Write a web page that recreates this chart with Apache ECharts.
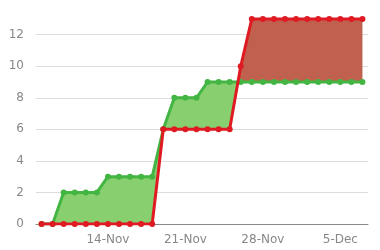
<!DOCTYPE html>
<html><head><meta charset="utf-8">
<script src="https://cdn.jsdelivr.net/npm/echarts@6/dist/echarts.min.js"></script>
<style>html,body{margin:0;padding:0;background:#fff}#c{width:380px;height:250px}</style>
</head><body><div id="c"></div>
<script>
var dates = ['8-Nov','9-Nov','10-Nov','11-Nov','12-Nov','13-Nov','14-Nov','15-Nov','16-Nov','17-Nov','18-Nov','19-Nov','20-Nov','21-Nov','22-Nov','23-Nov','24-Nov','25-Nov','26-Nov','27-Nov','28-Nov','29-Nov','30-Nov','1-Dec','2-Dec','3-Dec','4-Dec','5-Dec','6-Dec','7-Dec'];
var greenVals = [0,0,2,2,2,2,3,3,3,3,3,6,8,8,8,9,9,9,9,9,9,9,9,9,9,9,9,9,9,9];
var redVals   = [0,0,0,0,0,0,0,0,0,0,0,6,6,6,6,6,6,6,10,13,13,13,13,13,13,13,13,13,13,13];
var yTicks = [0,2,4,6,8,10,12];
var shownLabels = ['14-Nov','21-Nov','28-Nov','5-Dec'];

var GREEN_LINE = '#43b543', GREEN_FILL = '#88cf70', RED_LINE = '#e01a22', RED_FILL = '#c0604e';

function renderFill(params, api) {
  var n = greenVals.length;
  var pts = [];
  for (var i = 0; i < n; i++) {
    pts.push({x: i, g: greenVals[i], r: redVals[i]});
    if (i < n - 1) {
      var d0 = greenVals[i] - redVals[i], d1 = greenVals[i+1] - redVals[i+1];
      if (d0 * d1 < 0) {
        var t = d0 / (d0 - d1);
        pts.push({x: i + t, g: greenVals[i] + t*(greenVals[i+1]-greenVals[i]), r: redVals[i] + t*(redVals[i+1]-redVals[i])});
      }
    }
  }
  var x0 = api.coord([0, 0])[0], bw = api.coord([1, 0])[0] - x0;
  function P(x, v) { return [x0 + x * bw, api.coord([0, v])[1]]; }
  var children = [];
  var run = null, runSign = 0;
  function flush() {
    if (run && run.length > 1) {
      var poly = [];
      for (var k = 0; k < run.length; k++) poly.push(P(run[k].x, run[k].g));
      for (var k2 = run.length - 1; k2 >= 0; k2--) poly.push(P(run[k2].x, run[k2].r));
      children.push({type: 'polygon', shape: {points: poly}, style: {fill: runSign > 0 ? GREEN_FILL : RED_FILL}});
    }
    run = null; runSign = 0;
  }
  for (var j = 0; j < pts.length - 1; j++) {
    var a = pts[j], b = pts[j+1];
    var s = (a.g - a.r) + (b.g - b.r);
    var sign = s > 0 ? 1 : (s < 0 ? -1 : 0);
    if (sign === 0) { flush(); continue; }
    if (sign !== runSign) { flush(); run = [a]; runSign = sign; }
    run.push(b);
  }
  flush();
  return {type: 'group', children: children};
}

var chart = echarts.init(document.getElementById('c'), null, {renderer: 'canvas'});
chart.setOption({
  animation: false,
  grid: {left: 36, right: 12, top: 11, bottom: 26, containLabel: false},
  xAxis: {
    type: 'category', data: dates, boundaryGap: true, offset: 4,
    axisLine: {lineStyle: {color: '#888', width: 1}},
    axisTick: {inside: true, length: 3, alignWithLabel: true, lineStyle: {color: '#888'},
      interval: function (idx, v) { return shownLabels.indexOf(v) >= 0; }},
    axisLabel: {color: '#888', fontSize: 12, fontFamily: 'DejaVu Sans', margin: 6,
      interval: function (idx, v) { return shownLabels.indexOf(v) >= 0; },
      formatter: function (v) { return v; }},
    splitLine: {show: false}
  },
  yAxis: {
    type: 'value', min: 0, max: 13.5, interval: 2,
    axisLine: {show: false}, axisTick: {show: false},
    axisLabel: {color: '#888', fontSize: 12, fontFamily: 'DejaVu Sans', margin: 12, showMaxLabel: false,
      formatter: function (v) { return yTicks.indexOf(v) >= 0 ? String(v) : ''; }},
    splitLine: {show: true, showMaxLine: false, lineStyle: {color: '#ddd', width: 1}}
  },
  series: [
    {type: 'custom', renderItem: renderFill, data: [[0, 0]], silent: true, z: 1},
    {type: 'line', data: greenVals, symbol: 'circle', symbolSize: 6, z: 3,
      lineStyle: {color: GREEN_LINE, width: 3}, itemStyle: {color: GREEN_LINE}},
    {type: 'line', data: redVals, symbol: 'circle', symbolSize: 6, z: 4,
      lineStyle: {color: RED_LINE, width: 3}, itemStyle: {color: RED_LINE}}
  ]
});
</script></body></html>
